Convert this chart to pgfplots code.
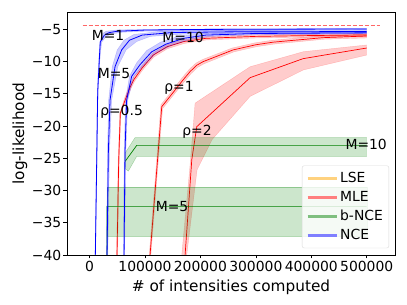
\documentclass[border=0pt]{standalone}
\usepackage{pgfplots}
\pgfplotsset{compat=1.18}
\usepackage{fontspec}
\setmainfont{DejaVu Sans}
\definecolor{lgorange}{RGB}{255,210,127}
\definecolor{lgred}{RGB}{255,127,127}
\definecolor{lggreen}{RGB}{127,191,127}
\definecolor{lgblue}{RGB}{127,127,255}
\definecolor{mgreen}{RGB}{0,128,0}
\newcommand{\fs}{\fontsize{13.9}{16.5}\selectfont}
\begin{document}
\begin{tikzpicture}
\begin{axis}[
  name=ax,
  scale only axis, width=328pt, height=243pt,
  xmin=-40600, xmax=551000, ymin=-40, ymax=-2.32,
  xtick={0,100000,200000,300000,400000,500000},
  xticklabels={0,100000,200000,300000,400000,500000},
  ytick={-40,-35,-30,-25,-20,-15,-10,-5},
  yticklabels={−40,−35,−30,−25,−20,−15,−10,−5},
  tick align=outside, major tick length=3.5pt,
  tick style={black, line width=0.6pt},
  xtick pos=bottom, ytick pos=left,
  ticklabel style={font=\fs, inner sep=2pt},
  scaled x ticks=false,
  axis line style={line width=0.8pt},
  xlabel={\# of intensities computed},
  ylabel={log-likelihood},
  label style={font=\fontsize{15.3}{18}\selectfont},
  xlabel style={yshift=-3pt},
  ylabel style={yshift=-1pt},
  legend image code/.code={\draw[#1] (0pt,0pt) -- (29pt,0pt);},
  legend style={at={(rel axis cs:0.982,0.028)}, anchor=south east,
    draw=black!15, rounded corners=2pt, fill=white, fill opacity=0.8, text opacity=1,
    font=\fs, row sep=3.3pt, inner xsep=4pt, inner ysep=4.5pt},
  legend cell align=left,
]
% legend
\addlegendimage{lgorange, line width=3pt}\addlegendentry{LSE}
\addlegendimage{lgred, line width=3pt}\addlegendentry{MLE}
\addlegendimage{lggreen, line width=3pt}\addlegendentry{b-NCE}
\addlegendimage{lgblue, line width=3pt}\addlegendentry{NCE}

% true log-likelihood
\addplot[forget plot, red, draw opacity=0.6, line width=1.5pt, dash pattern=on 4pt off 2pt] coordinates {(-12300,-4.44) (524000,-4.44)};

% ---------- MLE rho=0.5
\addplot[forget plot, fill=red, fill opacity=0.2, draw=red, draw opacity=0.2] coordinates {
(47500,-41) (48600,-40) (51700,-25.2) (54600,-18) (63600,-15.6) (72600,-13.6) (79000,-12.5) (94000,-10.7) (114000,-8.7) (139000,-7.4) (169000,-6.6) (209000,-6.15) (300000,-5.85) (500000,-5.65)
(500000,-6.1) (300000,-6.35) (211000,-6.65) (171000,-7.2) (141000,-8.0) (116000,-9.3) (96000,-11.3) (81000,-13.1) (74600,-14.2) (65600,-16.2) (56600,-18) (53700,-25.2) (50600,-40) (49500,-41)} -- cycle;
\addplot[forget plot, red, line width=0.7pt] coordinates {
(48500,-41) (49600,-40) (52700,-25.2) (55600,-18) (64600,-15.9) (73600,-13.9) (80000,-12.8) (95000,-11) (115000,-9) (140000,-7.7) (170000,-6.9) (210000,-6.4) (300000,-6.1) (400000,-5.97) (500000,-5.88)};

% ---------- MLE rho=1
\addplot[forget plot, fill=red, fill opacity=0.2, draw=red, draw opacity=0.2] coordinates {
(107000,-41) (107700,-40) (119800,-26.8) (128800,-16.7) (143800,-15.1) (167300,-12.5) (180000,-11.2) (192000,-10.25) (203400,-9.7) (257500,-7.9) (298500,-7.1) (329500,-6.7) (419500,-6.0) (500000,-5.75)
(500000,-6.35) (422500,-6.55) (332500,-7.3) (301500,-7.7) (260500,-8.5) (206400,-10.35) (195000,-10.9) (182900,-11.9) (170300,-13.2) (146800,-15.7) (131800,-17.3) (122800,-26.8) (110700,-40) (110000,-41)} -- cycle;
\addplot[forget plot, red, line width=0.7pt] coordinates {
(108500,-41) (109200,-40) (121300,-26.8) (130300,-17) (145300,-15.4) (168800,-12.85) (181400,-11.56) (193500,-10.57) (204900,-10.02) (259000,-8.2) (300000,-7.4) (331000,-7.0) (421000,-6.3) (500000,-6.04)};

% ---------- MLE rho=2
\addplot[forget plot, fill=red, fill opacity=0.2, draw=red, draw opacity=0.2] coordinates {
(165500,-41) (166400,-40) (181400,-26.0) (190400,-16.45) (289700,-10.8) (385900,-8.47) (500000,-7.43)
(500000,-9.0) (385900,-11.3) (289700,-15.4) (221100,-22.1) (194000,-26.8) (175400,-40) (174500,-41)} -- cycle;
\addplot[forget plot, red, line width=0.7pt] coordinates {
(171500,-41) (172400,-40) (184500,-25.2) (193500,-20.1) (289700,-12.5) (385400,-9.55) (500000,-7.9)};

% ---------- b-NCE M=5
\addplot[forget plot, fill=mgreen, fill opacity=0.2, draw=mgreen, draw opacity=0.3] coordinates {
(31600,-29.5) (500000,-29.5) (500000,-37.1) (31600,-37.1)} -- cycle;
\addplot[forget plot, mgreen, line width=0.7pt] coordinates {
(31600,-41) (31700,-32.46) (500000,-32.46)};

% ---------- b-NCE M=10
\addplot[forget plot, fill=mgreen, fill opacity=0.2, draw=mgreen, draw opacity=0.3] coordinates {
(64100,-24.2) (82100,-21.8) (500000,-21.8) (500000,-24.7) (85200,-24.7) (70000,-27.0) (64100,-26.6)} -- cycle;
\addplot[forget plot, mgreen, line width=0.7pt] coordinates {
(64100,-25.5) (85200,-23.0) (500000,-23.0)};

% ---------- NCE M=1
\addplot[forget plot, fill=blue, fill opacity=0.2, draw=blue, draw opacity=0.2] coordinates {
(9700,-41) (10000,-40) (14000,-14.7) (15500,-11.6) (17500,-8.5) (18500,-7.0) (23000,-5.7) (30000,-5.3) (50000,-5.1) (100000,-5.0) (500000,-4.85)
(500000,-5.05) (100000,-5.3) (60000,-5.45) (40000,-5.7) (30000,-6.1) (22000,-7.0) (20000,-8.5) (17000,-11.6) (15500,-14.7) (11000,-40) (10700,-41)} -- cycle;
\addplot[forget plot, blue, line width=0.8pt] coordinates {
(10300,-41) (10500,-40) (14800,-14.7) (16600,-11.6) (18400,-8.5) (19500,-6.97) (26700,-5.93) (34700,-5.53) (49600,-5.31) (100000,-5.12) (200000,-5.02) (500000,-4.95)};

% ---------- NCE M=5
\addplot[forget plot, fill=blue, fill opacity=0.2, draw=blue, draw opacity=0.2] coordinates {
(30400,-41) (30500,-40) (32500,-24) (34500,-16) (41000,-10.8) (50000,-8.2) (62000,-6.7) (80000,-5.8) (130000,-5.3) (250000,-5.15) (500000,-5.1)
(500000,-5.6) (250000,-5.65) (170000,-5.75) (110000,-6.1) (85000,-6.9) (66000,-8.2) (51000,-10.8) (40000,-16) (36000,-24) (33000,-40) (32900,-41)} -- cycle;
\addplot[forget plot, blue, line width=0.8pt] coordinates {
(31500,-41) (31600,-40) (34000,-24) (37000,-16) (46000,-10.8) (58000,-8.2) (72000,-6.7) (95000,-5.9) (150000,-5.5) (250000,-5.4) (500000,-5.35)};

% ---------- NCE M=10
\addplot[forget plot, fill=blue, fill opacity=0.2, draw=blue, draw opacity=0.2] coordinates {
(61200,-41) (61300,-40) (62500,-24) (65000,-16) (72000,-12.3) (85000,-10.2) (103000,-8.3) (128000,-7.0) (160000,-6.1) (200000,-5.7) (300000,-5.45) (500000,-5.35)
(500000,-5.72) (300000,-5.85) (220000,-6.1) (180000,-6.6) (148000,-7.5) (120000,-8.7) (97000,-10.7) (80000,-12.3) (69000,-16) (65500,-24) (63300,-40) (63200,-41)} -- cycle;
\addplot[forget plot, blue, line width=0.8pt] coordinates {
(62200,-41) (62300,-40) (64000,-24) (67000,-16) (76000,-12.3) (91000,-10.5) (112000,-8.5) (138000,-7.3) (170000,-6.4) (210000,-5.9) (300000,-5.65) (500000,-5.55)};

% ---------- annotations
\node[font=\fs, inner sep=0pt] at (axis cs:33400,-5.93) {M=1};
\node[font=\fs, inner sep=0pt] at (axis cs:44200,-11.87) {M=5};
\node[font=\fs, inner sep=0pt] at (axis cs:57800,-17.85) {ρ=0.5};
\node[font=\fs, inner sep=0pt] at (axis cs:168800,-6.19) {M=10};
\node[font=\fs, inner sep=0pt] at (axis cs:161500,-14.13) {ρ=1};
\node[font=\fs, inner sep=0pt] at (axis cs:194000,-20.85) {ρ=2};
\node[font=\fs, inner sep=0pt] at (axis cs:148900,-32.46) {M=5};
\node[font=\fs, inner sep=0pt] at (axis cs:499000,-22.8) {M=10};
\end{axis}
\path ([shift={(-67pt,-50pt)}]ax.south west) rectangle ([shift={(12pt,12pt)}]ax.north east);
\end{tikzpicture}
\end{document}
